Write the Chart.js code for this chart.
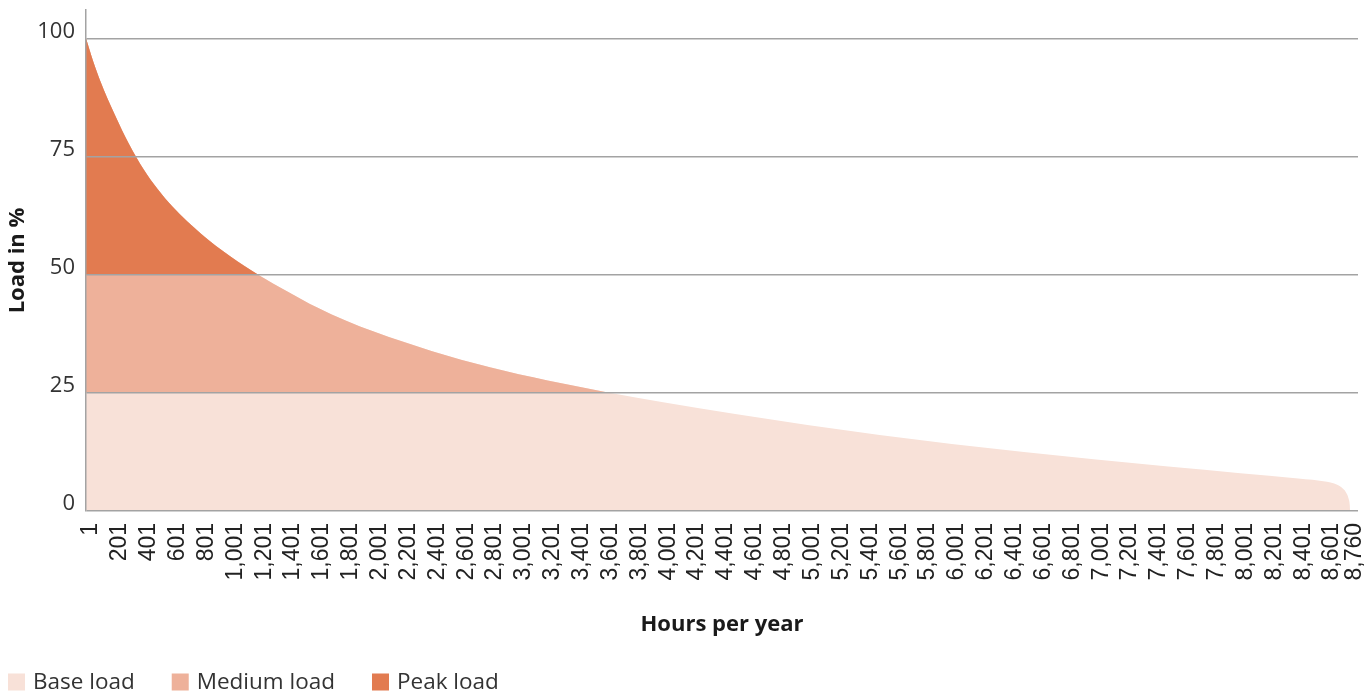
<!DOCTYPE html>
<html>
<head>
<meta charset="utf-8">
<script src="https://cdn.jsdelivr.net/npm/chart.js@4"></script>
<style>
  html, body { margin: 0; padding: 0; background: #ffffff; }
  #wrap { width: 1372px; height: 693px; position: relative; }
</style>
</head>
<body>
<div id="wrap"><canvas id="chart"></canvas></div>
<script>
// Load duration curve: hours of the year sorted by load, in % of the peak.
const hours = [1, 50, 100, 200, 300, 400, 500, 600, 800, 1000, 1200, 1400, 1600, 1800,
  2000, 2400, 2800, 3200, 3600, 4000, 4500, 5000, 5500, 6000, 6500, 7000, 7500, 8000,
  8400, 8600, 8650, 8700, 8730, 8750, 8758, 8760];
const load = [100, 95.2, 91, 83.9, 77.6, 72.3, 68, 64.4, 58.6, 53.9, 49.9, 46.4, 43.1, 40.3,
  37.9, 33.8, 30.4, 27.6, 25.2, 23, 20.5, 18.2, 16.1, 14.2, 12.5, 10.9, 9.4, 8,
  6.9, 6.2, 5.8, 5, 4, 2.6, 1.2, 0];

// Bands of the curve: each is filled from its floor level up to the curve.
const seriesNames = ['Base load', 'Medium load', 'Peak load'];
const seriesColors = ['#f8e1d8', '#eeb19a', '#e27b50'];
const bandFloors = [0, 25, 50];

const hourTicks = [1, 201, 401, 601, 801, 1001, 1201, 1401, 1601, 1801, 2001, 2201, 2401,
  2601, 2801, 3001, 3201, 3401, 3601, 3801, 4001, 4201, 4401, 4601, 4801, 5001, 5201,
  5401, 5601, 5801, 6001, 6201, 6401, 6601, 6801, 7001, 7201, 7401, 7601, 7801, 8001,
  8201, 8401, 8601, 8760];
const loadTicks = [0, 25, 50, 75, 100];

const curve = hours.map((h, i) => ({ x: h, y: load[i] }));

const datasets = seriesNames.map((name, i) => ({
  label: name,
  data: curve,
  backgroundColor: seriesColors[i],
  borderColor: seriesColors[i],
  borderWidth: 0,
  pointRadius: 0,
  pointHoverRadius: 0,
  cubicInterpolationMode: 'monotone',
  // lower bands are painted first, higher bands on top of them
  order: seriesNames.length - i,
  fill: bandFloors[i] === 0
    ? 'origin'
    : { target: { value: bandFloors[i] }, above: seriesColors[i], below: 'rgba(0,0,0,0)' }
}));

// Simple legend row with square swatches along the bottom-left corner.
const bandLegend = {
  id: 'bandLegend',
  afterDraw(chart, args, opts) {
    const ctx = chart.ctx;
    ctx.save();
    ctx.font = opts.font;
    ctx.textBaseline = 'middle';
    let x = opts.left;
    const y = chart.height - opts.bottom;
    chart.data.datasets.forEach(ds => {
      ctx.fillStyle = ds.backgroundColor;
      ctx.fillRect(x, y - opts.box / 2, opts.box, opts.box);
      x += opts.box + opts.gap;
      ctx.fillStyle = opts.color;
      ctx.fillText(ds.label, x, y + 1);
      x += ctx.measureText(ds.label).width + opts.spacing;
    });
    ctx.restore();
  }
};

const gridColor = '#a3a3a3';

new Chart(document.getElementById('chart'), {
  type: 'line',
  data: { datasets },
  plugins: [bandLegend],
  options: {
    responsive: true,
    maintainAspectRatio: false,
    animation: false,
    events: [],
    layout: { padding: { left: 0, right: 14, top: 10, bottom: 55 } },
    plugins: {
      legend: { display: false },
      tooltip: { enabled: false },
      bandLegend: {
        left: 8, bottom: 11, box: 17, gap: 8, spacing: 37,
        font: '22.5px "Open Sans"', color: '#333333'
      }
    },
    scales: {
      x: {
        type: 'linear',
        min: 1,
        max: 8815,
        afterBuildTicks: scale => { scale.ticks = hourTicks.map(v => ({ value: v })); },
        afterFit: scale => { scale.paddingLeft = 0; scale.paddingRight = 0; scale.height = 127; },
        grid: { display: false, drawTicks: false },
        border: { display: false },
        ticks: {
          autoSkip: false,
          maxRotation: 90,
          minRotation: 90,
          padding: 12,
          labelOffset: 5,
          color: '#222222',
          font: { family: '"Liberation Sans", Arial, sans-serif', size: 23 },
          callback: v => Number(v).toLocaleString('en-US')
        },
        title: {
          display: true,
          text: 'Hours per year',
          color: '#1a1a1a',
          font: { family: '"Open Sans"', size: 22, weight: 'bold' },
          padding: { top: 30, bottom: 0 }
        }
      },
      y: {
        min: 0,
        max: 106,
        afterBuildTicks: scale => { scale.ticks = loadTicks.map(v => ({ value: v })); },
        afterFit: scale => { scale.paddingTop = 0; scale.paddingBottom = 0; scale.width = 86; },
        grid: { color: gridColor, lineWidth: 1.5, drawTicks: false, z: 1 },
        border: { display: true, color: gridColor, width: 1.5, z: 1 },
        ticks: {
          padding: 11,
          labelOffset: -7,
          color: '#333333',
          font: { family: '"Open Sans"', size: 22 }
        },
        title: {
          display: true,
          text: 'Load in %',
          color: '#1a1a1a',
          font: { family: '"Open Sans"', size: 22, weight: 'bold' },
          padding: { top: 5, bottom: 6 }
        }
      }
    }
  }
});
</script>
</body>
</html>
